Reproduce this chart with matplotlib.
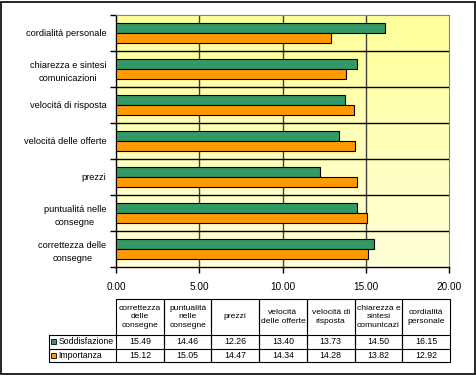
import numpy as np
import matplotlib
import matplotlib.pyplot as plt
from matplotlib.patches import Rectangle

plt.rcParams['font.family'] = ['Liberation Sans', 'DejaVu Sans']

# categories bottom -> top, as in the chart
categories = ["correttezza delle\nconsegne", "puntualitá nelle\nconsegne", "prezzi",
              "velocitá delle offerte", "velocitá di risposta",
              "chiarezza e sintesi\ncomunicazioni", "cordialitá personale"]
table_headers = ["correttezza\ndelle\nconsegne", "puntualitá\nnelle\nconsegne", "prezzi",
                 "velocitá\ndelle offerte", "velocitá di\nrisposta",
                 "chiarezza e\nsintesi\ncomunicazi", "cordialitá\npersonale"]
soddisfazione = [15.49, 14.46, 12.26, 13.40, 13.73, 14.50, 16.15]
importanza = [15.12, 15.05, 14.47, 14.34, 14.28, 13.82, 12.92]
series_names = ["Soddisfazione", "Importanza"]
colors = ["#339966", "#FF9900"]
xticks = [0, 5, 10, 15, 20]

W, H = 477, 376
fig = plt.figure(figsize=(W / 100, H / 100), dpi=100)

def px(x0, y0, x1, y1):
    return [x0 / W, 1 - y1 / H, (x1 - x0) / W, (y1 - y0) / H]

# frame around the whole chart
fig.patches.append(Rectangle((1 / W, 2 / H), 474 / W, 372 / H, transform=fig.transFigure,
                             fill=False, edgecolor='black', lw=1.2))

ax = fig.add_axes(px(116, 15, 449, 267))
n = len(categories)
# gradient background
grad = np.linspace(0, 1, 100).reshape(-1, 1)
top = np.array([1.0, 1.0, 0.6])
bot = np.array([1.0, 1.0, 0.85])
img = top + (bot - top) * grad[:, :, None]
ax.imshow(img, extent=[0, 20, -0.5, n - 0.5], aspect='auto', origin='upper', zorder=0)

y = np.arange(n)
h = 0.29
ax.barh(y + h / 2, soddisfazione, height=h, color=colors[0], edgecolor='black', lw=0.8, zorder=3)
ax.barh(y - h / 2, importanza, height=h, color=colors[1], edgecolor='black', lw=0.8, zorder=3)

ax.set_xlim(0, 20)
ax.set_ylim(-0.5, n - 0.5)
for v in xticks[1:-1]:
    ax.axvline(v, color='#404040', lw=1, zorder=1)
for b in np.arange(0.5, n - 0.5, 1):
    ax.axhline(b, color='black', lw=1, zorder=1)

ax.set_xticks(xticks)
ax.set_xticklabels([f"{v:.2f}" for v in xticks], fontsize=7.2)
ax.set_yticks(np.arange(-0.5, n, 1), minor=False)
ax.set_yticklabels([])
ax.set_yticks(y, minor=True)
ax.set_yticklabels(categories, minor=True, fontsize=6.7, linespacing=1.6,
                   multialignment='center')
ax.tick_params(axis='y', which='minor', length=0, pad=7)
ax.tick_params(axis='y', which='major', length=4, width=1)
ax.tick_params(axis='x', length=4, width=1, pad=7)
ax.spines['top'].set_color('#808080')
ax.spines['right'].set_color('#808080')
for s in ['left', 'bottom']:
    ax.spines[s].set_linewidth(1)

# data table
tab = fig.add_axes([0, 0, 1, 1])
tab.set_xlim(0, W)
tab.set_ylim(H, 0)
tab.axis('off')
x_left, x0, x1 = 49, 116, 450
y_h0, y_h1, y_r1, y_r2 = 299, 335, 348.5, 362
cw = (x1 - x0) / n
for i in range(n):
    cx = x0 + i * cw
    tab.add_patch(Rectangle((cx, y_h0), cw, y_r2 - y_h0, fill=False, edgecolor='black', lw=0.8))
    tab.text(cx + cw / 2, (y_h0 + y_h1) / 2, table_headers[i], ha='center', va='center',
             fontsize=6.1, linespacing=1.3)
    tab.text(cx + cw / 2, (y_h1 + y_r1) / 2, f"{soddisfazione[i]:.2f}", ha='center', va='center', fontsize=6.3)
    tab.text(cx + cw / 2, (y_r1 + y_r2) / 2, f"{importanza[i]:.2f}", ha='center', va='center', fontsize=6.3)
for yy in [y_h1, y_r1]:
    tab.plot([x_left, x1], [yy, yy], color='black', lw=0.8)
tab.plot([x_left, x_left, x0], [y_h1, y_r2, y_r2], color='black', lw=0.8)
for k, (yy0, yy1) in enumerate([(y_h1, y_r1), (y_r1, y_r2)]):
    cy = (yy0 + yy1) / 2
    tab.add_patch(Rectangle((51.5, cy - 2.5), 5, 5, facecolor=colors[k], edgecolor='black', lw=0.6))
    tab.text(58.5, cy, series_names[k], ha='left', va='center', fontsize=6.3)

fig.savefig("out.png", dpi=100)
